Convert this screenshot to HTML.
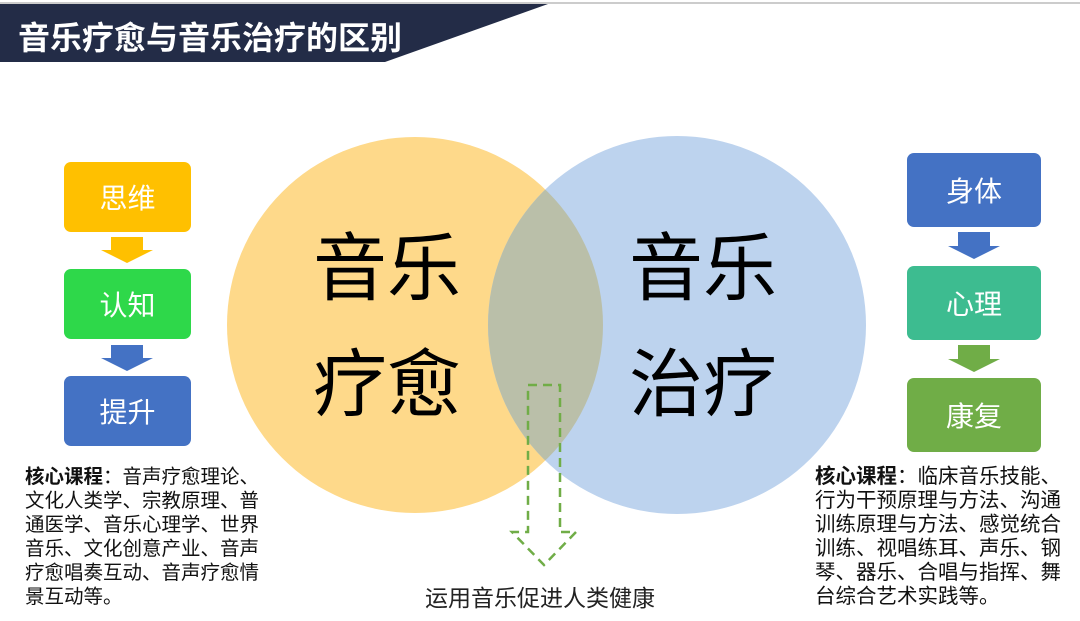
<!DOCTYPE html>
<html><head><meta charset="utf-8"><style>
body{margin:0;width:1080px;height:621px;background:#fff;position:relative;overflow:hidden;font-family:"Liberation Sans","Noto Sans CJK SC",sans-serif}
.a{position:absolute}
.box{position:absolute;border-radius:7px;color:#fff;font-size:28px;display:flex;align-items:center;justify-content:center}
.txt{position:absolute;font-size:19.5px;line-height:24px;color:#111;white-space:nowrap}
.big{position:absolute;font-size:74px;color:#000;line-height:1;white-space:nowrap}
</style></head><body>
<div class="a" style="left:0;top:2px;width:1080px;height:2px;background:#ccc"></div>
<svg class="a" style="left:0;top:0" width="1080" height="621">
<polygon points="0,4 548,4 385,62 0,62" fill="#232c47"/>
<circle cx="415" cy="325" r="188" fill="#fed98a"/>
<circle cx="677" cy="325" r="189" fill="#bdd3ee"/>
<clipPath id="c"><circle cx="415" cy="325" r="188"/></clipPath>
<circle cx="677" cy="325" r="189" fill="#babfa9" clip-path="url(#c)"/>
<path d="M528,385 L560,385 L560,532 L576,532 L544,565 L512,532 L528,532 Z" fill="none" stroke="#70ad47" stroke-width="2.5" stroke-dasharray="9,6"/>
<polygon points="111,237 143,237 143,250 153,250 127,263 101,250 111,250" fill="#ffc000"/>
<polygon points="111,345 143,345 143,358 153,358 127,371 101,358 111,358" fill="#4472c4"/>
<polygon points="958,232 990,232 990,246 1000,246 974,259 948,246 958,246" fill="#4472c4"/>
<polygon points="958,345 990,345 990,359 1000,359 974,372 948,359 958,359" fill="#70ad47"/>
</svg>
<div class="a" style="left:18px;top:13px;font-size:32px;font-weight:bold;color:#fff;white-space:nowrap">音乐疗愈与音乐治疗的区别</div>
<div class="box" style="left:64px;top:162px;width:127px;height:70px;background:#ffc000">思维</div>
<div class="box" style="left:64px;top:269px;width:127px;height:70px;background:#2ed84a">认知</div>
<div class="box" style="left:64px;top:376px;width:127px;height:70px;background:#4472c4">提升</div>
<div class="box" style="left:907px;top:153px;width:134px;height:74px;background:#4472c4">身体</div>
<div class="box" style="left:907px;top:266px;width:134px;height:74px;background:#3dbc90">心理</div>
<div class="box" style="left:907px;top:378px;width:134px;height:74px;background:#70ad47">康复</div>
<div class="big" style="left:313px;top:232px">音乐</div>
<div class="big" style="left:313px;top:348px">疗愈</div>
<div class="big" style="left:629px;top:232px">音乐</div>
<div class="big" style="left:629px;top:348px">治疗</div>
<div class="txt" style="left:25px;top:465px"><b>核心课程</b>：音声疗愈理论、<br>文化人类学、宗教原理、普<br>通医学、音乐心理学、世界<br>音乐、文化创意产业、音声<br>疗愈唱奏互动、音声疗愈情<br>景互动等。</div>
<div class="txt" style="left:815px;top:465px;font-size:20.5px"><b>核心课程</b>：临床音乐技能、<br>行为干预原理与方法、沟通<br>训练原理与方法、感觉统合<br>训练、视唱练耳、声乐、钢<br>琴、器乐、合唱与指挥、舞<br>台综合艺术实践等。</div>
<div class="a" style="left:425px;top:579px;font-size:23px;color:#222;white-space:nowrap">运用音乐促进人类健康</div>
</body></html>
